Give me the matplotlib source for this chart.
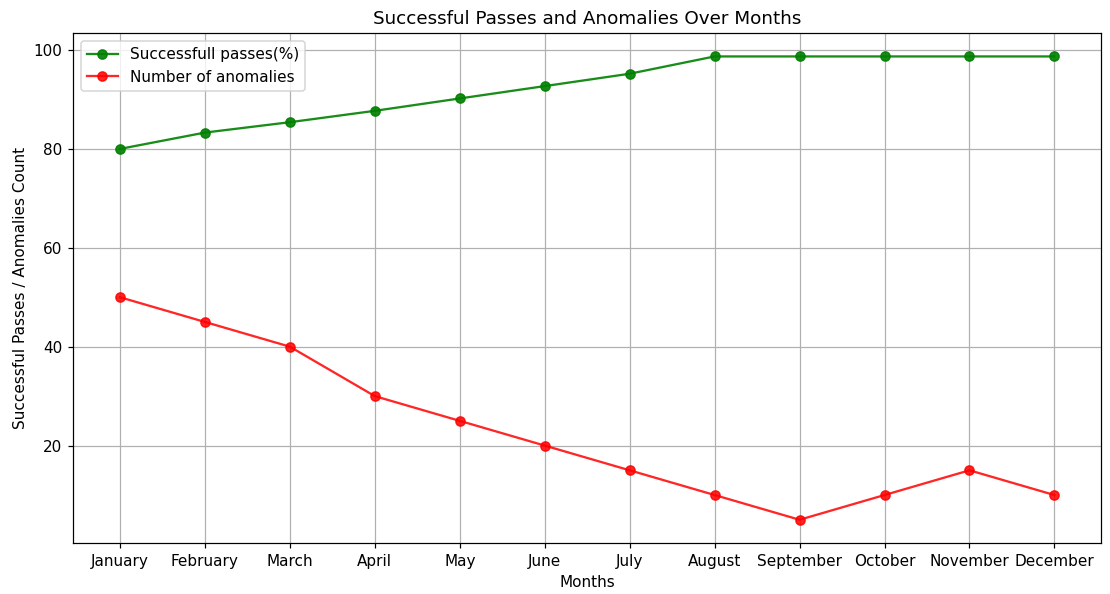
import numpy as np
import matplotlib
matplotlib.use('Agg')
import matplotlib.pyplot as plt

months = ['January', 'February', 'March', 'April', 'May', 'June', 'July',
          'August', 'September', 'October', 'November', 'December']
passes = [80, 83.3, 85.4, 87.7, 90.2, 92.7, 95.2, 98.7, 98.7, 98.7, 98.7, 98.7]
anomalies = [50, 45, 40, 30, 25, 20, 15, 10, 5, 10, 15, 10]

# rendered at dpi 110 so text and markers come out a bit larger
fig, ax = plt.subplots(figsize=(1110 / 110, 594 / 110), dpi=110)
fig.subplots_adjust(left=0.066, right=0.992, top=0.944, bottom=0.086)

ax.plot(months, passes, marker='o', color='green', alpha=0.9, label='Successfull passes(%)')
ax.plot(months, anomalies, marker='o', color='red', alpha=0.85, label='Number of anomalies')

ax.set_title('Successful Passes and Anomalies Over Months')
ax.set_xlabel('Months')
ax.set_ylabel('Successful Passes / Anomalies Count')
ax.legend(loc='upper left')
ax.grid(True)

fig.savefig('out.png', dpi=110)
